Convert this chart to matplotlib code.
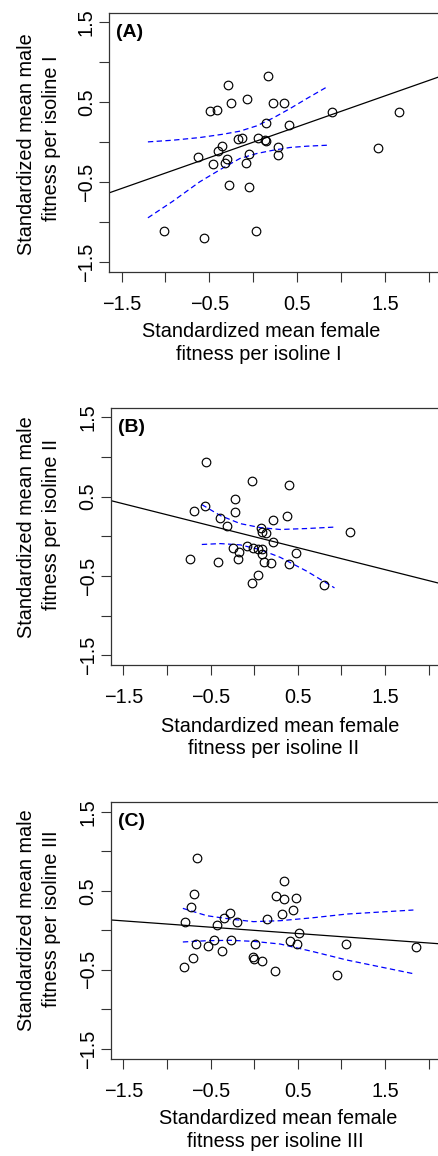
import numpy as np
import matplotlib.pyplot as plt

plt.rcParams['font.family'] = ['Liberation Sans', 'DejaVu Sans']

# Panel A: isoline I
female_A = [0.164, -0.286, -0.248, -0.069, -0.492, -0.412, 0.229, 0.347, 0.896, 1.667,
            0.141, 0.412, -0.175, -0.126, 0.050, 0.130, 0.150, 0.282, 0.282, 1.423,
            -0.351, -0.404, -0.625, -0.297, -0.317, -0.458, -0.053, -0.084, -0.275, -0.046,
            -1.011, -0.561, 0.031]
male_A = [0.833, 0.713, 0.496, 0.542, 0.388, 0.400, 0.496, 0.496, 0.379, 0.383,
          0.238, 0.221, 0.038, 0.054, 0.050, 0.030, 0.020, -0.063, -0.154, -0.067,
          -0.046, -0.104, -0.188, -0.204, -0.258, -0.275, -0.142, -0.258, -0.538, -0.563,
          -1.113, -1.196, -1.113]

# Panel B: isoline II
female_B = [-0.550, -0.023, 0.397, -0.214, -0.695, -0.569, -0.225, -0.397, 0.374, 0.221,
            -0.309, 0.073, 0.088, 0.130, 1.092, 0.221, -0.084, -0.019, 0.042, 0.088,
            -0.248, -0.176, 0.088, 0.481, -0.733, -0.420, -0.183, 0.115, 0.198, 0.397,
            0.042, -0.027, 0.805]
male_B = [0.941, 0.693, 0.647, 0.471, 0.324, 0.382, 0.311, 0.235, 0.256, 0.202,
          0.126, 0.109, 0.055, 0.038, 0.055, -0.071, -0.118, -0.143, -0.164, -0.160,
          -0.143, -0.202, -0.227, -0.214, -0.290, -0.324, -0.290, -0.324, -0.340, -0.345,
          -0.487, -0.592, -0.618]

# Panel C: isoline III
female_C = [-0.656, 0.340, -0.687, 0.248, 0.340, 0.481, -0.721, 0.439, -0.282, 0.317,
            -0.340, 0.149, -0.790, -0.202, -0.427, 0.511, -0.462, -0.267, 0.405, -0.668,
            -0.531, 0.011, 0.496, 1.050, -0.374, 1.851, -0.702, -0.011, -0.004, 0.095,
            -0.809, 0.237, 0.947]
male_C = [0.919, 0.628, 0.455, 0.430, 0.396, 0.409, 0.291, 0.257, 0.215, 0.202,
          0.160, 0.143, 0.110, 0.105, 0.072, -0.038, -0.122, -0.118, -0.135, -0.169,
          -0.194, -0.177, -0.177, -0.173, -0.257, -0.211, -0.346, -0.337, -0.362, -0.392,
          -0.459, -0.518, -0.569]

# fitted lines (intercept, slope)
fit_A = (0.0, 0.386)
fit_B = (-0.005, -0.277)
fit_C = (0.0, -0.080)

# confidence bands
band_x_A = [-1.20, -0.915, -0.61, -0.343, -0.152, 0.039, 0.229, 0.42, 0.611, 0.84]
band_hi_A = [0.004, 0.025, 0.058, 0.100, 0.138, 0.204, 0.304, 0.421, 0.546, 0.691]
band_lo_A = [-0.946, -0.738, -0.496, -0.321, -0.204, -0.142, -0.100, -0.066, -0.050, -0.038]

band_x_B = [-0.60, -0.389, -0.16, 0.069, 0.298, 0.603, 0.92]
band_hi_B = [0.40, 0.262, 0.160, 0.110, 0.086, 0.098, 0.116]
band_lo_B = [-0.103, -0.092, -0.108, -0.168, -0.265, -0.440, -0.650]

band_x_C = [-0.817, -0.542, -0.275, -0.008, 0.298, 0.679, 1.061, 1.824]
band_hi_C = [0.278, 0.185, 0.143, 0.110, 0.122, 0.160, 0.206, 0.257]
band_lo_C = [-0.147, -0.131, -0.126, -0.139, -0.173, -0.270, -0.375, -0.548]

panel_tags = ['(A)', '(B)', '(C)']
isolines = ['I', 'II', 'III']
tick_vals = [-1.5, -1.0, -0.5, 0.0, 0.5, 1.0, 1.5, 2.0]
tick_text = ['\u22121.5', '', '\u22120.5', '', '0.5', '', '1.5', '']

W, H = 438, 1156
fig = plt.figure(figsize=(W / 100, H / 100), dpi=100)

# box left, top, bottom in pixels
boxes = [(109.3, 12.7, 271.7), (111, 407.8, 664.8), (111, 802.2, 1058.5)]
right_px = 441
xlab_pos = [((261, 336.7), (259, 360)), ((280, 731.7), (274, 754)), ((278, 1124), (275, 1147))]
ylab_pos = [((31.7, 144), (56.7, 138)), ((31.7, 526.7), (56.7, 525)), ((31.7, 920), (56.7, 918.3))]

data = [(female_A, male_A, fit_A, band_x_A, band_hi_A, band_lo_A),
        (female_B, male_B, fit_B, band_x_B, band_hi_B, band_lo_B),
        (female_C, male_C, fit_C, band_x_C, band_hi_C, band_lo_C)]

edge = '#333333'
fs = 14.3
for i, (xs, ys, fit, bx, bhi, blo) in enumerate(data):
    l, t, b = boxes[i]
    ax = fig.add_axes([l / W, 1 - b / H, (right_px - l) / W, (b - t) / H])
    ax.set_xlim(-1.64, 2.14)
    ax.set_ylim(-1.62, 1.62)

    ax.axline((0, fit[0]), slope=fit[1], color='black', lw=0.9)
    ax.plot(bx, bhi, color='blue', lw=0.9, dashes=(4.3, 2.7))
    ax.plot(bx, blo, color='blue', lw=0.9, dashes=(4.3, 2.7))
    ax.plot(xs, ys, 'o', ms=6.2, mfc='none', mec='black', mew=0.85)

    ax.set_xticks(tick_vals)
    ax.set_xticklabels(tick_text)
    ax.set_yticks(tick_vals[:-1])
    ax.set_yticklabels(tick_text[:-1], rotation=90, va='center')
    ax.tick_params(axis='both', direction='out', length=7.2, width=0.8,
                   color=edge, labelsize=fs)
    ax.tick_params(axis='x', pad=9.4)
    ax.tick_params(axis='y', pad=2.4)
    for s in ax.spines.values():
        s.set_color(edge)
        s.set_linewidth(0.9)

    fig.text((l + 7) / W, 1 - (t + 11) / H, panel_tags[i], fontsize=14,
             fontweight='bold', ha='left', va='top')

    (x1, y1), (x2, y2) = xlab_pos[i]
    fig.text(x1 / W, 1 - y1 / H, 'Standardized mean female', fontsize=fs,
             ha='center', va='baseline')
    fig.text(x2 / W, 1 - y2 / H, 'fitness per isoline ' + isolines[i], fontsize=fs,
             ha='center', va='baseline')
    (x1, y1), (x2, y2) = ylab_pos[i]
    fig.text(x1 / W, 1 - y1 / H, 'Standardized mean male', fontsize=fs, rotation=90,
             rotation_mode='anchor', ha='center', va='baseline')
    fig.text(x2 / W, 1 - y2 / H, 'fitness per isoline ' + isolines[i], fontsize=fs,
             rotation=90, rotation_mode='anchor', ha='center', va='baseline')

fig.savefig('out.png', dpi=100)
